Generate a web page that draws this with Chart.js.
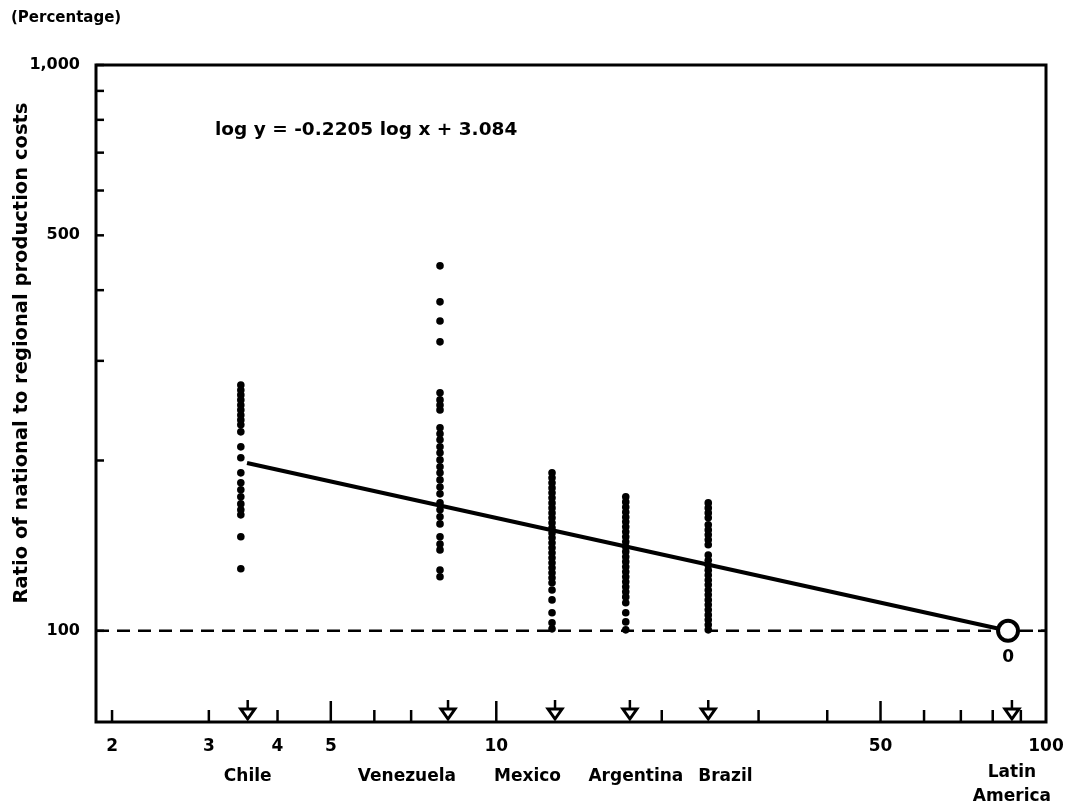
<!DOCTYPE html>
<html><head><meta charset="utf-8">
<script src="https://cdn.jsdelivr.net/npm/chart.js@4.4.1/dist/chart.umd.min.js"></script>
<style>html,body{margin:0;padding:0;background:#fff}#wrap{width:1067px;height:806px;position:relative}</style>
</head><body><div id="wrap"><canvas id="c"></canvas></div>
<script>
// ---- data ----
const xTickValues = [2, 3, 4, 5, 10, 50, 100];
const xMinorTicks = [2, 3, 4, 5, 6, 7, 10, 20, 30, 40, 50, 60, 70, 80, 90];
const xMajorTicks = [5, 10, 50];
const yTickValues = [100, 200, 300, 400, 500, 600, 700, 800, 900, 1000];
const yTickLabels = {100: '100', 500: '500', 1000: '1,000'};
const countries = ['Chile', 'Venezuela', 'Mexico', 'Argentina', 'Brazil', 'Latin America'];
const countryArrowX = [3.53, 8.17, 12.79, 17.5, 24.3, 86.7];

const chileX = 3.43;
const chileY = [272, 266.5, 261.2, 255.9, 250.7, 245.7, 240.7, 235.9, 231.2, 224.7, 211.4, 202.2, 190.2, 182.6, 177.5, 172.5, 167.6, 163.6, 160.3, 146.6, 128.7];
const venezuelaX = 7.9;
const venezuelaY = [441.6, 381.4, 352.9, 324.1, 263.4, 255.9, 250.7, 245.7, 228.4, 222.9, 217.6, 211.4, 206.4, 200.5, 194.9, 190.2, 184.8, 179.6, 174.6, 168.3, 163.6, 159.0, 154.5, 146.6, 142.4, 139.0, 128.1, 124.6];
const mexicoX = 12.63;
const mexicoY = [190.2, 186.4, 182.6, 178.9, 175.4, 171.8, 168.3, 164.9, 161.6, 158.4, 155.2, 152.1, 148.9, 146.0, 143.1, 140.2, 137.4, 134.6, 131.9, 129.2, 126.6, 124.1, 121.6, 118.1, 113.4, 107.6, 103.3, 100.8];
const argentinaX = 17.2;
const argentinaY = [172.5, 169, 165.5, 162.2, 158.9, 155.8, 152.7, 149.6, 146.6, 143.7, 140.8, 138, 135.2, 132.5, 129.8, 127.2, 124.6, 122.1, 119.6, 117.2, 114.8, 112.1, 107.6, 103.7, 100.4];
const brazilX = 24.3;
const brazilY = [168.3, 164.9, 161.6, 158.4, 153.9, 150.8, 147.8, 144.8, 141.9, 136.1, 133.3, 130.6, 128, 125.5, 123, 120.6, 118.1, 115.8, 113.4, 111.2, 108.9, 106.7, 104.6, 102.5, 100.4];
const latinAmericaX = [85.3];
const latinAmericaY = [100];
const fitX = [3.52, 85.3];
const fitY = [198, 100];
const parityX = [1.87, 100];
const parityY = [100, 100];
const equationText = 'log y = -0.2205 log x + 3.084';
const unitText = '(Percentage)';
const yTitleText = 'Ratio of national to regional production costs';
const latinAmericaLabel = '0';

// ---- build ----
const column = (x, ys) => ys.map(y => ({x: x, y: y}));
const pairs = (xs, ys) => xs.map((x, i) => ({x: x, y: ys[i]}));
const FONT = '"DejaVu Sans", sans-serif';

const dotStyle = {pointRadius: 3.8, pointBackgroundColor: '#000', pointBorderWidth: 0, showLine: false, order: 1};

const decor = {
  id: 'decor',
  afterDatasetsDraw(chart) {
    const {ctx, chartArea: a, scales: {x, y}} = chart;
    ctx.save();
    ctx.strokeStyle = '#000';
    ctx.fillStyle = '#000';
    ctx.lineCap = 'square';
    // frame
    ctx.lineWidth = 3;
    ctx.strokeRect(a.left, a.top, a.right - a.left, a.bottom - a.top);
    // x inner ticks
    ctx.lineWidth = 2.5;
    ctx.lineCap = 'butt';
    xMinorTicks.forEach(v => {
      const px = x.getPixelForValue(v);
      const len = xMajorTicks.includes(v) ? 21 : 12;
      ctx.beginPath(); ctx.moveTo(px, a.bottom); ctx.lineTo(px, a.bottom - len); ctx.stroke();
    });
    // y inner ticks
    yTickValues.forEach(v => {
      const py = y.getPixelForValue(v);
      ctx.beginPath(); ctx.moveTo(a.left, py); ctx.lineTo(a.left + 8, py); ctx.stroke();
    });
    ctx.beginPath(); ctx.moveTo(a.right, y.getPixelForValue(100)); ctx.lineTo(a.right - 8, y.getPixelForValue(100)); ctx.stroke();
    // country arrows
    countryArrowX.forEach(v => {
      const px = x.getPixelForValue(v);
      const b = a.bottom;
      ctx.lineWidth = 2.5;
      ctx.beginPath(); ctx.moveTo(px, b - 22); ctx.lineTo(px, b - 13); ctx.stroke();
      ctx.beginPath();
      ctx.moveTo(px - 7, b - 13); ctx.lineTo(px + 7, b - 13); ctx.lineTo(px, b - 3); ctx.closePath();
      ctx.fillStyle = '#fff'; ctx.fill();
      ctx.lineWidth = 3; ctx.stroke();
      ctx.fillStyle = '#000';
    });
    // texts
    ctx.font = 'bold 17px ' + FONT;
    ctx.textBaseline = 'middle';
    const align = ['center', 'right', 'right', 'center', 'left', 'center'];
    const shift = [0, 8, 6, 6, -10, 0];
    countries.forEach((c, i) => {
      const px = x.getPixelForValue(countryArrowX[i]) + shift[i];
      ctx.textAlign = align[i];
      const lines = c === 'Latin America' ? ['Latin', 'America'] : [c];
      lines.forEach((t, j) => ctx.fillText(t, px, 777 - (lines.length - 1) * 4 + j * 24));
    });
    // label under Latin America circle
    ctx.textAlign = 'center';
    ctx.font = 'bold 17px ' + FONT;
    ctx.fillText(latinAmericaLabel, x.getPixelForValue(latinAmericaX[0]), y.getPixelForValue(latinAmericaY[0]) + 27);
    // equation
    ctx.font = 'bold 18.5px ' + FONT;
    ctx.textAlign = 'left';
    ctx.fillText(equationText, 215, 130);
    // unit
    ctx.font = 'bold 15px ' + FONT;
    ctx.fillText(unitText, 11, 18);
    // y title
    ctx.save();
    ctx.translate(22, 353);
    ctx.rotate(-Math.PI / 2);
    ctx.textAlign = 'center';
    ctx.font = 'bold 19.5px ' + FONT;
    ctx.fillText(yTitleText, 0, 0);
    ctx.restore();
    ctx.restore();
  }
};

new Chart(document.getElementById('c'), {
  type: 'scatter',
  data: {
    datasets: [
      {label: 'Latin America', data: pairs(latinAmericaX, latinAmericaY), pointRadius: 10, pointBorderWidth: 4, pointBorderColor: '#000', pointBackgroundColor: '#fff', showLine: false, order: 0},
      {label: 'Chile', data: column(chileX, chileY), ...dotStyle},
      {label: 'Venezuela', data: column(venezuelaX, venezuelaY), ...dotStyle},
      {label: 'Mexico', data: column(mexicoX, mexicoY), ...dotStyle},
      {label: 'Argentina', data: column(argentinaX, argentinaY), ...dotStyle},
      {label: 'Brazil', data: column(brazilX, brazilY), ...dotStyle},
      {label: 'Fit', data: pairs(fitX, fitY), showLine: true, borderColor: '#000', borderWidth: 4, pointRadius: 0, order: 2},
      {label: 'Parity', data: pairs(parityX, parityY), showLine: true, borderColor: '#000', borderWidth: 2.5, borderDash: [13, 8], pointRadius: 0, order: 3}
    ]
  },
  options: {
    responsive: true,
    maintainAspectRatio: false,
    animation: false,
    events: [],
    layout: {padding: {top: 65, right: 21, left: 0, bottom: 0}},
    plugins: {legend: {display: false}, tooltip: {enabled: false}},
    scales: {
      x: {
        type: 'logarithmic', min: 1.87, max: 100,
        afterBuildTicks: s => { s.ticks = xTickValues.map(v => ({value: v})); },
        afterFit: s => { s.height = 84; s.paddingLeft = 0; s.paddingRight = 0; },
        grid: {display: false, drawTicks: false},
        border: {display: false},
        ticks: {autoSkip: false, maxRotation: 0, padding: 14, color: '#000', font: {family: FONT, weight: 'bold', size: 17}, callback: v => String(v)}
      },
      y: {
        type: 'logarithmic', min: 69, max: 1000,
        afterBuildTicks: s => { s.ticks = yTickValues.map(v => ({value: v})); },
        afterFit: s => { s.width = 96; s.paddingTop = 0; s.paddingBottom = 0; },
        grid: {display: false, drawTicks: false},
        border: {display: false},
        ticks: {autoSkip: false, padding: 16, color: '#000', font: {family: FONT, weight: 'bold', size: 16}, callback: v => yTickLabels[v] || ''}
      }
    }
  },
  plugins: [decor]
});
</script>
</body></html>
